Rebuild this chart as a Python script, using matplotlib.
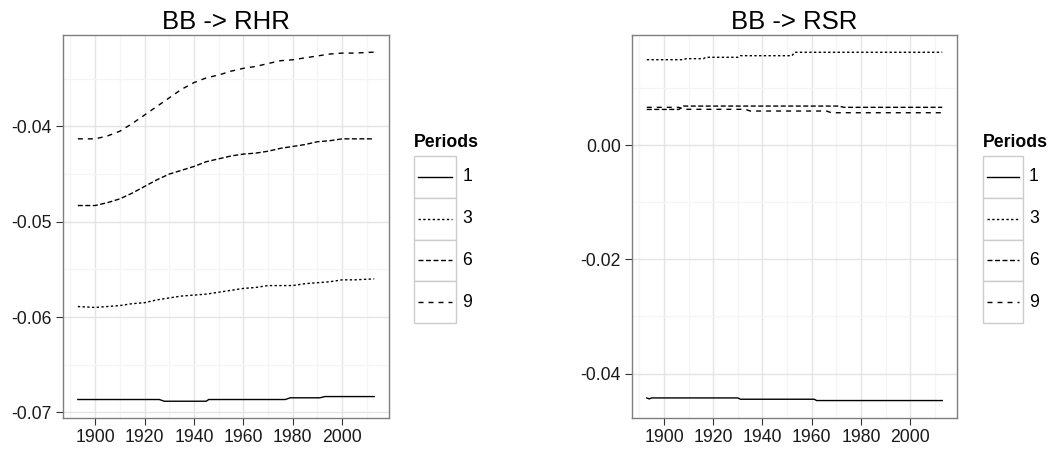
#!/usr/bin/env python
# -*- coding: utf-8 -*-

"""
Impulse responses BB -> RHR and BB -> RSR for several periods,
drawn in the look of a ggplot2 theme_bw chart.
"""

# Third party modules.
import matplotlib
matplotlib.use("Agg")
import matplotlib.pyplot as plt
from matplotlib.patches import Rectangle
from matplotlib.lines import Line2D

# Globals and constants variables.
plt.rcParams['font.family'] = ['Liberation Sans', 'DejaVu Sans']
plt.rcParams['axes.unicode_minus'] = False

periods = ["1", "3", "6", "9"]
linestyles = {
    "1": "solid",
    "3": (0, (1.7, 1.7)),
    "6": (0, (3.6, 1.8)),
    "9": (0, (3.6, 3.6)),
}

# BB -> RHR
rhr_years_1 = [1893, 1926, 1928, 1945, 1946, 1977, 1979, 1991, 1993, 2013]
rhr_values_1 = [-0.06866, -0.06866, -0.06884, -0.06884, -0.06866, -0.06866,
                -0.06848, -0.06848, -0.06835, -0.06835]

rhr_years = [1893, 1900, 1905, 1910, 1915, 1920, 1925, 1930, 1935, 1940,
             1945, 1950, 1955, 1960, 1965, 1970, 1975, 1980, 1985, 1990,
             1995, 2000, 2005, 2013]
rhr_values_3 = [-0.0589, -0.0590, -0.0589, -0.0588, -0.0586, -0.0585,
                -0.0582, -0.0580, -0.0578, -0.0577, -0.0576, -0.0574,
                -0.0572, -0.0570, -0.0569, -0.0567, -0.0567, -0.0567,
                -0.0565, -0.0564, -0.0563, -0.0561, -0.0561, -0.0560]
rhr_values_6 = [-0.0483, -0.0483, -0.0480, -0.0476, -0.0470, -0.0463,
                -0.0456, -0.0450, -0.0446, -0.0442, -0.0437, -0.0434,
                -0.0431, -0.0429, -0.0428, -0.0426, -0.0423, -0.0421,
                -0.0419, -0.0416, -0.0415, -0.0413, -0.0413, -0.0413]
rhr_values_9 = [-0.0413, -0.0413, -0.0410, -0.0405, -0.0397, -0.0388,
                -0.0379, -0.0370, -0.0361, -0.0354, -0.0349, -0.0346,
                -0.0342, -0.0339, -0.0337, -0.0334, -0.0331, -0.0330,
                -0.0328, -0.0326, -0.0324, -0.0323, -0.0323, -0.0322]

# BB -> RSR
rsr_years_1 = [1893, 1894, 1895, 1930, 1931, 1961, 1962, 2013]
rsr_values_1 = [-0.04428, -0.04445, -0.04428, -0.04428, -0.04451, -0.04451,
                -0.04474, -0.04474]
rsr_years_3 = [1893, 1908, 1909, 1916, 1917, 1930, 1931, 1952, 1953, 2013]
rsr_values_3 = [0.01502, 0.01502, 0.01520, 0.01520, 0.01544, 0.01544,
                0.01572, 0.01572, 0.01632, 0.01632]
rsr_years_6 = [1893, 1906, 1908, 1971, 1973, 2013]
rsr_values_6 = [0.00630, 0.00630, 0.00689, 0.00689, 0.00667, 0.00667]
rsr_years_9 = [1893, 1906, 1908, 1933, 1935, 1966, 1968, 2013]
rsr_values_9 = [0.00667, 0.00667, 0.00632, 0.00632, 0.00602, 0.00602,
                0.00572, 0.00572]

rhr_yticks = [-0.07, -0.06, -0.05, -0.04]
rhr_yticklabels = ["-0.07", "-0.06", "-0.05", "-0.04"]
rsr_yticks = [-0.04, -0.02, 0.00]
rsr_yticklabels = ["-0.04", "-0.02", "0.00"]
xticks = [1900, 1920, 1940, 1960, 1980, 2000]

LINE_W = 1.0
GRID_MAJOR = "#E5E5E5"
GRID_MINOR = "#F5F5F5"
BORDER = "#7F7F7F"


def style_axes(ax, title, yticks, yticklabels, ylim):
    ax.set_xticks(xticks)
    ax.set_xticklabels([str(x) for x in xticks])
    ax.set_yticks(yticks)
    ax.set_yticklabels(yticklabels)
    ax.set_xticks([x - 10 for x in xticks] + [xticks[-1] + 10], minor=True)
    step = yticks[1] - yticks[0]
    ax.set_yticks([y - step / 2 for y in yticks] + [yticks[-1] + step / 2],
                  minor=True)
    # limits last, so that the minor ticks do not widen the view
    ax.set_xlim(1887, 2019)
    ax.set_ylim(*ylim)
    ax.grid(True, which="major", color=GRID_MAJOR, linewidth=1.0)
    ax.grid(True, which="minor", color=GRID_MINOR, linewidth=1.0)
    ax.set_axisbelow(True)
    for sp in ax.spines.values():
        sp.set_color(BORDER)
        sp.set_linewidth(1.0)
    ax.tick_params(which="major", length=5, width=0.8, color="#333333",
                   labelsize=12.7, labelcolor="#1a1a1a", pad=3)
    ax.tick_params(which="minor", length=0)
    ax.set_title(title, fontsize=18.5, pad=4)


def draw_legend(fig, rect):
    lax = fig.add_axes(rect)
    lax.set_xlim(0, 1)
    lax.set_ylim(0, len(periods))
    lax.axis("off")
    for i, p in enumerate(periods):
        y0 = len(periods) - 1 - i
        lax.add_patch(Rectangle((0, y0), 1, 1, facecolor="white",
                                edgecolor="#CCCCCC", linewidth=1.0,
                                clip_on=False))
        lax.add_line(Line2D([0.1, 0.9], [y0 + 0.5, y0 + 0.5], color="black",
                            linewidth=LINE_W, linestyle=linestyles[p]))
        lax.text(1.15, y0 + 0.5, p, fontsize=12.7, va="center", ha="left")
    lax.text(0.0, len(periods) + 0.12, "Periods", fontsize=12.7,
             fontweight="bold", ha="left", va="bottom")


def main():
    fig = plt.figure(figsize=(10.55, 4.55), dpi=100)

    ax1 = fig.add_axes([63 / 1055, 37 / 455, 326 / 1055, 383 / 455])
    ax1.plot(rhr_years_1, rhr_values_1, color="black", linewidth=LINE_W,
             linestyle=linestyles["1"])
    ax1.plot(rhr_years, rhr_values_3, color="black", linewidth=LINE_W,
             linestyle=linestyles["3"])
    ax1.plot(rhr_years, rhr_values_6, color="black", linewidth=LINE_W,
             linestyle=linestyles["6"])
    ax1.plot(rhr_years, rhr_values_9, color="black", linewidth=LINE_W,
             linestyle=linestyles["9"])
    style_axes(ax1, "BB -> RHR", rhr_yticks, rhr_yticklabels,
               (-0.0706, -0.0304))

    ax2 = fig.add_axes([632 / 1055, 37 / 455, 325 / 1055, 383 / 455])
    ax2.plot(rsr_years_1, rsr_values_1, color="black", linewidth=LINE_W,
             linestyle=linestyles["1"])
    ax2.plot(rsr_years_3, rsr_values_3, color="black", linewidth=LINE_W,
             linestyle=linestyles["3"])
    ax2.plot(rsr_years_6, rsr_values_6, color="black", linewidth=LINE_W,
             linestyle=linestyles["6"])
    ax2.plot(rsr_years_9, rsr_values_9, color="black", linewidth=LINE_W,
             linestyle=linestyles["9"])
    style_axes(ax2, "BB -> RSR", rsr_yticks, rsr_yticklabels,
               (-0.0478, 0.01935))

    # legends, one beside each panel
    draw_legend(fig, [414 / 1055, (455 - 323) / 455, 42 / 1055, 167 / 455])
    draw_legend(fig, [983 / 1055, (455 - 323) / 455, 40 / 1055, 167 / 455])

    fig.savefig("out.png", dpi=100)


if __name__ == '__main__':
    main()
